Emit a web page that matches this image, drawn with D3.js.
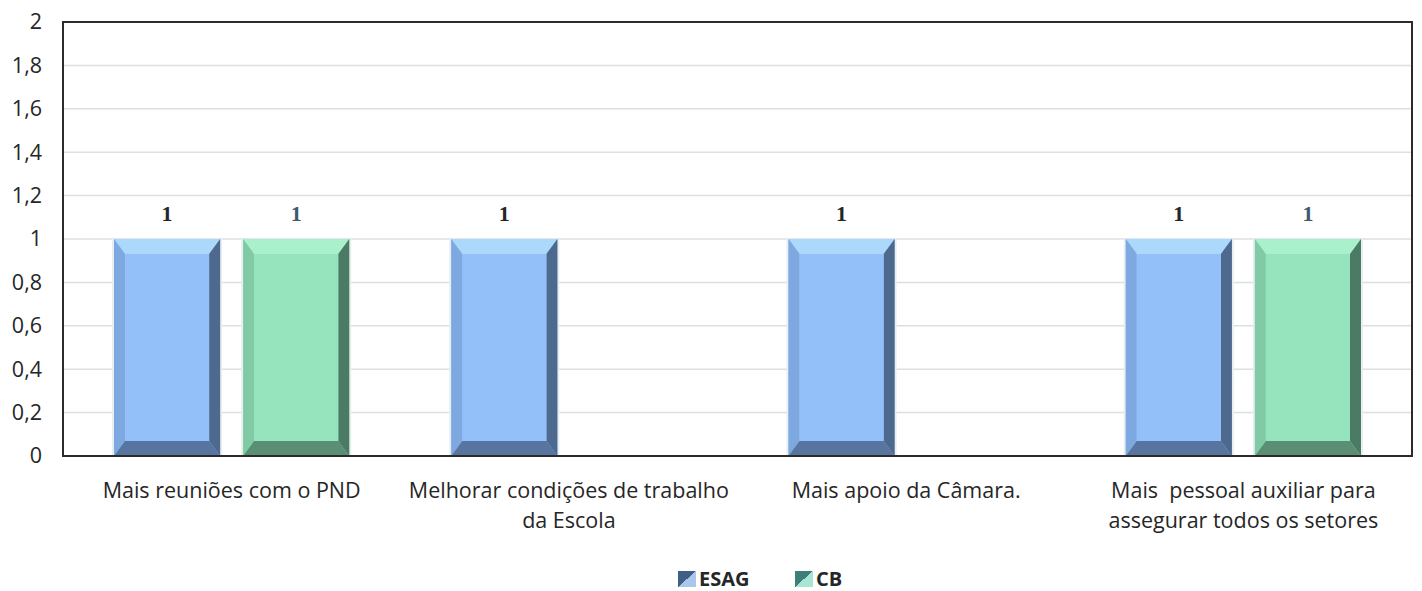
<!DOCTYPE html>
<html>
<head>
<meta charset="utf-8">
<script src="https://cdn.jsdelivr.net/npm/d3@7"></script>
<style>
  html, body { margin: 0; padding: 0; background: #ffffff; }
  svg { display: block; }
</style>
</head>
<body>
<svg id="chart" width="1422" height="591"></svg>
<script>
// ---- data ----
const categories = [
  ["Mais reuniões com o PND"],
  ["Melhorar condições de trabalho", "da Escola"],
  ["Mais apoio da Câmara."],
  ["Mais  pessoal auxiliar para", "assegurar todos os setores"]
];
const seriesNames = ["ESAG", "CB"];
const esagValues = [1, 1, 1, 1];
const cbValues = [1, null, null, 1];
const yTicks = [0, 0.2, 0.4, 0.6, 0.8, 1, 1.2, 1.4, 1.6, 1.8, 2];

// ---- layout ----
const plot = { left: 63, right: 1412, top: 22, bottom: 456 };
const font = "'Open Sans', sans-serif";

const svg = d3.select("#chart");

const x0 = d3.scaleBand()
  .domain(d3.range(categories.length))
  .range([plot.left, plot.right])
  .padding(0);

const x1 = d3.scaleBand()
  .domain(seriesNames)
  .range([0, x0.bandwidth()])
  .paddingInner(0.178)
  .paddingOuter(0.395);

const y = d3.scaleLinear().domain([0, 2]).range([plot.bottom, plot.top]);

// gridlines
svg.append("g")
  .selectAll("line")
  .data(yTicks.filter(t => t > 0 && t < 2))
  .join("line")
  .attr("x1", plot.left).attr("x2", plot.right)
  .attr("y1", d => y(d)).attr("y2", d => y(d))
  .attr("stroke", "#dcdfe3").attr("stroke-width", 1.5);

// y axis labels
const fmt = d => d3.format(".1~f")(d).replace(".", ",");
const yAxis = d3.axisLeft(y).tickValues(yTicks).tickFormat(fmt).tickSize(0).tickPadding(21);
const yg = svg.append("g").attr("transform", `translate(${plot.left},0)`).call(yAxis);
yg.select(".domain").remove();
yg.selectAll("text")
  .attr("font-family", font).attr("font-size", 21.5).attr("fill", "#262626");

// colors for bevel bars
const palette = {
  ESAG: { face: "#93c0f8", top: "#acd8fb", left: "#7ea8e0", right: "#4d6a8e", bottom: "#58759f", label: "#262626" },
  CB:   { face: "#96e4bd", top: "#abf0cd", left: "#80cba5", right: "#4b7a65", bottom: "#5a8f75", label: "#3c5a70" }
};

const rows = [];
categories.forEach((c, i) => {
  [esagValues[i], cbValues[i]].forEach((v, j) => {
    if (v != null) rows.push({ cat: i, series: seriesNames[j], value: v });
  });
});

const bevelX = 11, bevelTop = 15, bevelBottom = 15;
const barsG = svg.append("g");
rows.forEach(r => {
  const xl = x0(r.cat) + x1(r.series);
  const xr = xl + x1.bandwidth();
  const yt = y(r.value);
  const yb = y(0);
  const p = palette[r.series];
  const g = barsG.append("g");
  // soft shadow
  g.append("rect").attr("x", xl - 2).attr("y", yt).attr("width", xr - xl + 4).attr("height", yb - yt)
    .attr("fill", "#e9eef0");
  g.append("rect").attr("x", xl).attr("y", yt).attr("width", xr - xl).attr("height", yb - yt).attr("fill", p.face);
  const poly = pts => g.append("polygon").attr("points", pts.map(q => q.join(",")).join(" "));
  const il = xl + bevelX, ir = xr - bevelX, it = yt + bevelTop, ib = yb - bevelBottom;
  poly([[xl, yt], [xr, yt], [ir, it], [il, it]]).attr("fill", p.top);
  poly([[xl, yt], [il, it], [il, ib], [xl, yb]]).attr("fill", p.left);
  poly([[xr, yt], [xr, yb], [ir, ib], [ir, it]]).attr("fill", p.right);
  poly([[xl, yb], [il, ib], [ir, ib], [xr, yb]]).attr("fill", p.bottom);
  g.append("rect").attr("x", il).attr("y", it).attr("width", ir - il).attr("height", ib - it).attr("fill", p.face);
  // data label
  svg.append("text")
    .attr("x", (xl + xr) / 2).attr("y", yt - 18)
    .attr("text-anchor", "middle")
    .attr("font-family", "'Liberation Serif', serif").attr("font-weight", "bold").attr("font-size", 22)
    .attr("fill", p.label)
    .text(d3.format("d")(r.value));
});

// plot border
svg.append("rect")
  .attr("x", plot.left).attr("y", plot.top)
  .attr("width", plot.right - plot.left).attr("height", plot.bottom - plot.top)
  .attr("fill", "none").attr("stroke", "#2b2b2b").attr("stroke-width", 2);

// category labels
const xg = svg.append("g");
categories.forEach((lines, i) => {
  const t = xg.append("text")
    .attr("x", x0(i) + x0.bandwidth() / 2)
    .attr("y", 498)
    .attr("text-anchor", "middle")
    .attr("font-family", font).attr("font-size", 21.5).attr("fill", "#262626")
    .attr("xml:space", "preserve");
  lines.forEach((ln, k) => {
    t.append("tspan").attr("x", x0(i) + x0.bandwidth() / 2).attr("dy", k === 0 ? 0 : 30).text(ln);
  });
});

// legend
const defs = svg.append("defs");
const grads = { ESAG: ["#3f5f86", "#a9c7ea"], CB: ["#3f7f7a", "#a7e6d3"] };
seriesNames.forEach(s => {
  const gr = defs.append("linearGradient").attr("id", "lg-" + s)
    .attr("x1", "0").attr("y1", "0").attr("x2", "1").attr("y2", "1");
  gr.append("stop").attr("offset", "0.5").attr("stop-color", grads[s][0]);
  gr.append("stop").attr("offset", "0.5").attr("stop-color", grads[s][1]);
});
const legendItems = [{ s: "ESAG", x: 678 }, { s: "CB", x: 795 }];
const lg = svg.append("g");
legendItems.forEach(it => {
  lg.append("rect").attr("x", it.x).attr("y", 571).attr("width", 18).attr("height", 16)
    .attr("fill", `url(#lg-${it.s})`);
  lg.append("text").attr("x", it.x + 21).attr("y", 586)
    .attr("font-family", font).attr("font-weight", "bold").attr("font-size", 20).attr("fill", "#262626")
    .text(it.s);
});
</script>
</body>
</html>
